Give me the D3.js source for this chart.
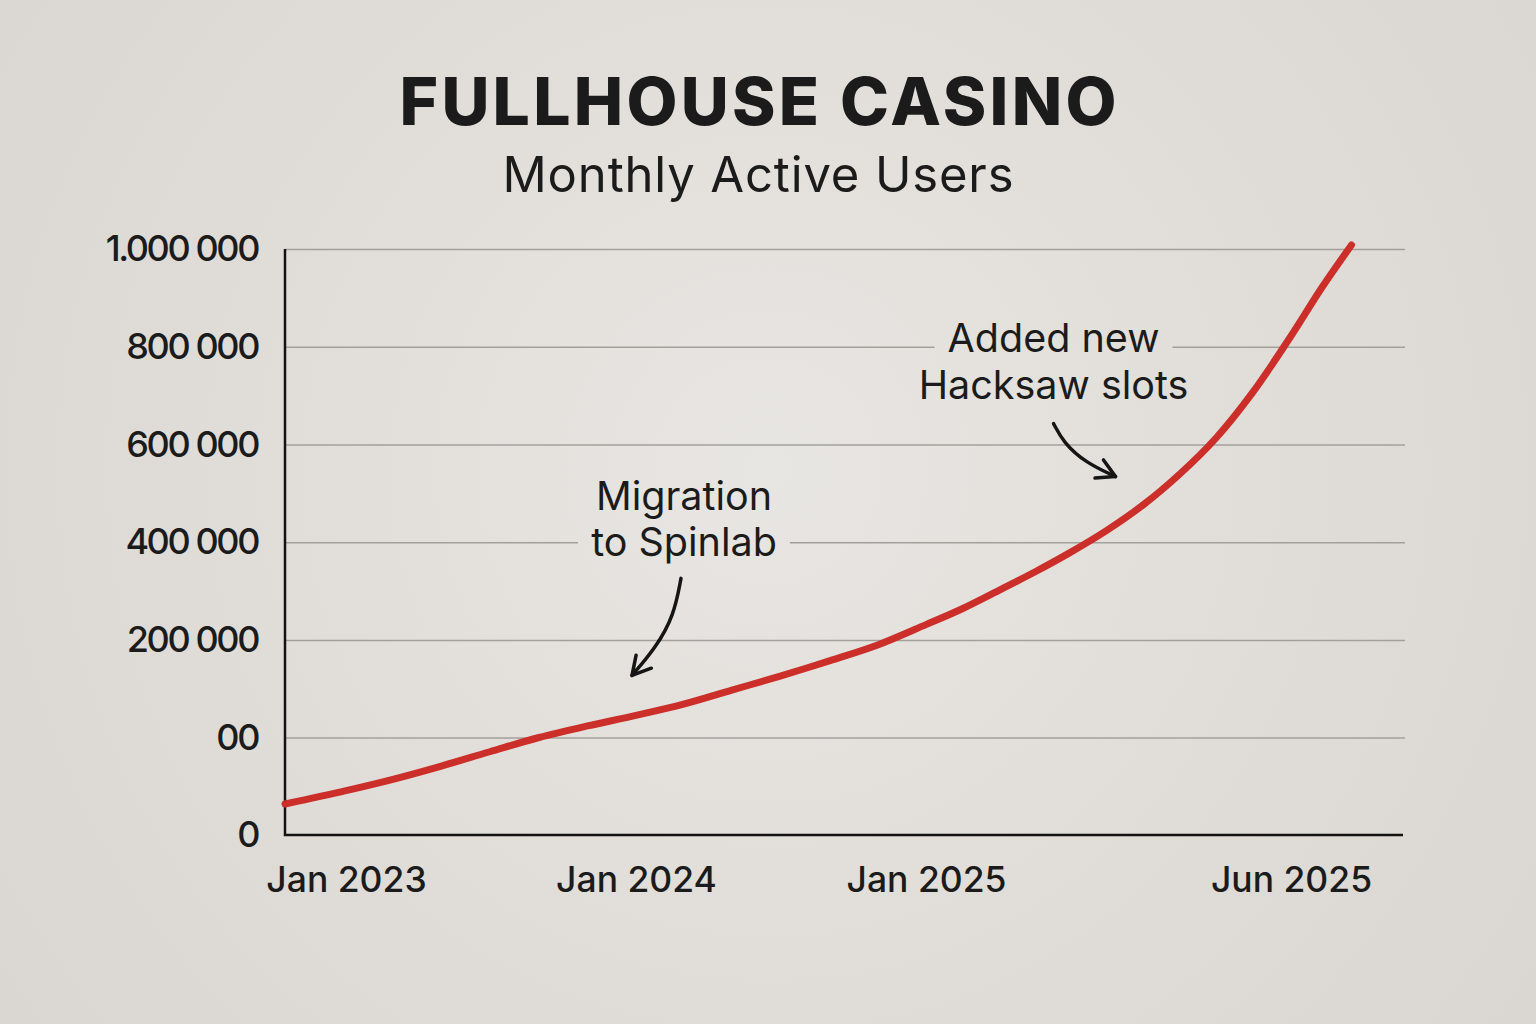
<!DOCTYPE html>
<html>
<head>
<meta charset="utf-8">
<script src="https://cdn.jsdelivr.net/npm/d3@7"></script>
<style>
  html, body { margin: 0; padding: 0; background: #e3e0db; overflow: hidden; }
  svg { display: block; }
  text { font-family: Inter, "Noto Sans", sans-serif; fill: #1b1b1b; }
</style>
</head>
<body>
<svg id="drawing_region"></svg>
<script>
var width = 1536;
var height = 1024;
var margin = {top:249, right:131, bottom:189, left:285};

// data
const dates = ["2022-10-15","2023-01-01","2023-03-01","2023-05-01","2023-07-01","2023-09-01","2023-11-01",
               "2024-01-01","2024-03-01","2024-05-01","2024-07-01","2024-09-01","2024-11-01",
               "2025-01-01","2025-01-16","2025-02-01","2025-02-15","2025-03-01","2025-03-16",
               "2025-04-01","2025-04-16","2025-05-01","2025-05-16","2025-06-01","2025-06-14","2025-06-27"];
const users = [31800, 45500, 57100, 70700, 85400, 100000, 111900,
               122700, 134200, 148600, 163000, 178600, 194900,
               231500, 264000, 303700, 339100, 377200, 421800,
               477000, 539600, 613300, 705600, 822000, 919200, 1008200];

// axis stops as printed (the picture's axes are not evenly spaced)
const xBreaks = ["2022-10-15","2023-01-01","2024-01-01","2025-01-01","2025-06-01","2025-07-20"];
const xTicks = ["2023-01-01","2024-01-01","2025-01-01","2025-06-01"];
const yBreaks = [0, 200000, 1000000];
const yTicks = [0, 100000, 200000, 400000, 600000, 800000, 1000000];
const yTickLabels = ["0","00","200 000","400 000","600 000","800 000","1.000 000"];

const title = "FULLHOUSE CASINO";
const subtitle = "Monthly Active Users";
const notes = [
  {lines:["Migration","to Spinlab"], at:"2024-01-01"},
  {lines:["Added new","Hacksaw slots"], at:"2025-04-01"}
];

const parse = d3.timeParse("%Y-%m-%d");
const data = dates.map((d, i) => ({date: parse(d), value: users[i]}));

const innerWidth = width - margin.left - margin.right;
const innerHeight = height - margin.top - margin.bottom;

var svg = d3.select('#drawing_region')
      .attr('width', width)
      .attr('height', height);

const defs = svg.append('defs');
const grad = defs.append('radialGradient').attr('id', 'paper')
      .attr('gradientUnits', 'userSpaceOnUse')
      .attr('cx', 768).attr('cy', 470).attr('r', 1000);
grad.append('stop').attr('offset', '0%').attr('stop-color', '#e8e6e2');
grad.append('stop').attr('offset', '100%').attr('stop-color', '#d9d5d0');

defs.append('marker').attr('id', 'head')
      .attr('markerUnits', 'userSpaceOnUse')
      .attr('viewBox', '-22 -14 26 28')
      .attr('markerWidth', 26).attr('markerHeight', 28)
      .attr('refX', 0).attr('refY', 0)
      .attr('orient', 'auto')
    .append('path')
      .attr('d', 'M-18,-10L0,0L-18,10')
      .attr('fill', 'none').attr('stroke', '#151515')
      .attr('stroke-width', 3.5).attr('stroke-linecap', 'round').attr('stroke-linejoin', 'round');

svg.append('rect').attr('width', width).attr('height', height).attr('fill', 'url(#paper)');

const xscale = d3.scaleTime()
      .domain(xBreaks.map(parse))
      .range([0, 61, 351, 641, 1006, innerWidth]);

const yscale = d3.scaleLinear()
      .domain(yBreaks)
      .range([innerHeight, innerHeight - 195, 0]);

var chart = svg.append('g')
      .attr('transform', `translate(${margin.left}, ${margin.top})`);

// gridlines
const grid = chart.append('g')
      .call(d3.axisLeft(yscale).tickValues(yTicks.slice(1)).tickSize(-innerWidth).tickFormat(''));
grid.select('.domain').remove();
grid.selectAll('text').remove();
grid.selectAll('line').attr('stroke', '#a3a09c').attr('stroke-width', 1.5);

// annotation text with paper-coloured backing
const anchors = notes.map(n => {
  const d = data.find(p => +p.date === +parse(n.at));
  return {x: xscale(d.date), y: yscale(d.value)};
});
const noteOffsets = [
  {tx:48, ty:[-205, -159], arrow:[[45,-137],[38,-100],[20,-68],[-4,-40]]},
  {tx:-90, ty:[-153, -106], arrow:[[-90,-81],[-80,-62],[-58,-42],[-28,-28]]}
];

const noteG = chart.append('g');
notes.forEach((n, i) => {
  const a = anchors[i], o = noteOffsets[i];
  n.lines.forEach((t, j) => {
    const txt = noteG.append('text')
          .attr('x', a.x + o.tx).attr('y', a.y + o.ty[j])
          .attr('text-anchor', 'middle')
          .attr('font-size', 39.5)
          .text(t);
    const bb = txt.node().getBBox();
    noteG.insert('rect', 'text')
          .attr('x', bb.x - 13 + margin.left).attr('y', bb.y + 4 + margin.top)
          .attr('width', bb.width + 26).attr('height', bb.height - 6)
          .attr('transform', `translate(${-margin.left}, ${-margin.top})`)
          .attr('fill', 'url(#paper)');
  });
  const arrowLine = d3.line().curve(d3.curveBasis)
        .x(p => a.x + p[0]).y(p => a.y + p[1]);
  noteG.append('path')
        .attr('d', arrowLine(o.arrow))
        .attr('fill', 'none').attr('stroke', '#151515')
        .attr('stroke-width', 3.5).attr('stroke-linecap', 'round')
        .attr('marker-end', 'url(#head)');
});

// axes
const yAxis = chart.append('g')
      .call(d3.axisLeft(yscale).tickValues(yTicks).tickFormat((d, i) => yTickLabels[i]).tickSize(0).tickPadding(27));
yAxis.select('.domain').remove();
yAxis.selectAll('text')
      .attr('font-family', 'Inter, sans-serif')
      .attr('font-size', 36).attr('font-weight', 500)
      .attr('letter-spacing', -2.4)
      .attr('fill', '#141414');

const xAxis = chart.append('g')
      .attr('transform', `translate(0, ${innerHeight})`)
      .call(d3.axisBottom(xscale).tickValues(xTicks.map(parse)).tickFormat(d3.timeFormat('%b %Y')).tickSize(0).tickPadding(32));
xAxis.select('.domain').remove();
xAxis.selectAll('text')
      .attr('font-family', 'Inter, sans-serif')
      .attr('font-size', 35.5).attr('font-weight', 500)
      .attr('fill', '#161616');

chart.append('path')
      .attr('d', `M0,0V${innerHeight}H${innerWidth - 2}`)
      .attr('fill', 'none').attr('stroke', '#121212').attr('stroke-width', 2.5);

// the series
const line = d3.line()
      .x(d => xscale(d.date))
      .y(d => yscale(d.value))
      .curve(d3.curveCatmullRom.alpha(0.5));

chart.append('path')
      .attr('d', line(data))
      .attr('fill', 'none')
      .attr('stroke', '#cc2e2a')
      .attr('stroke-width', 7)
      .attr('stroke-linecap', 'round')
      .attr('stroke-linejoin', 'round');

// titles
svg.append('text')
      .attr('x', 758).attr('y', 125)
      .attr('text-anchor', 'middle')
      .attr('font-size', 66).attr('font-weight', 800)
      .attr('textLength', 717).attr('lengthAdjust', 'spacing')
      .text(title);

svg.append('text')
      .attr('x', 758).attr('y', 192)
      .attr('text-anchor', 'middle')
      .attr('font-size', 49)
      .attr('textLength', 511).attr('lengthAdjust', 'spacing')
      .text(subtitle);
</script>
</body>
</html>
